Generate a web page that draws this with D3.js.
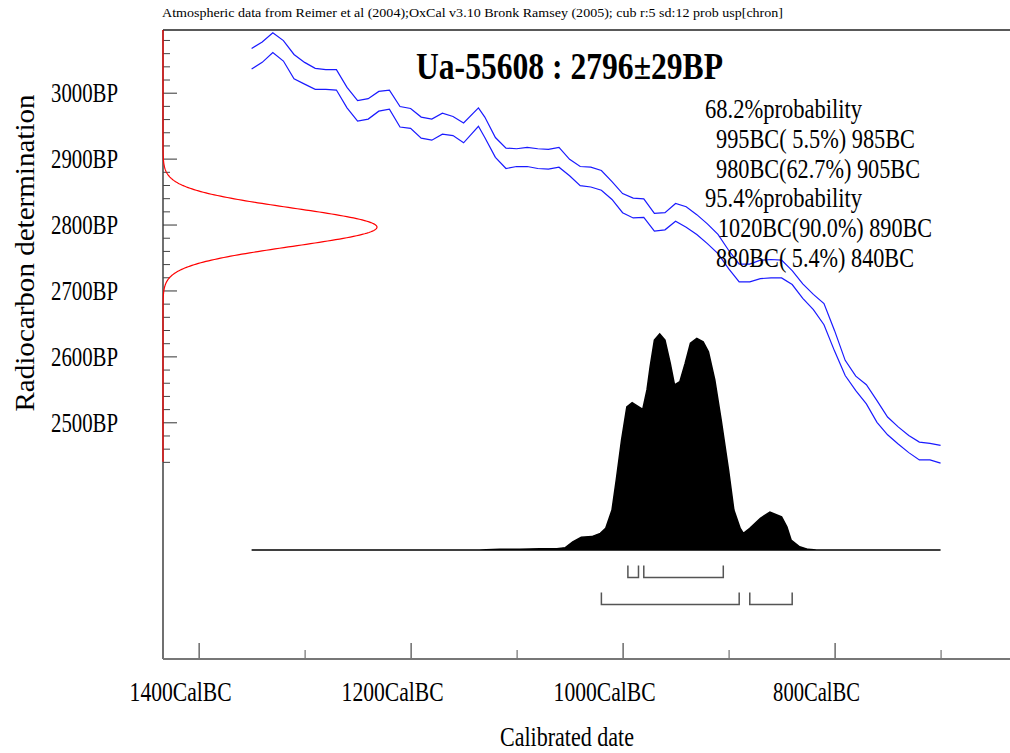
<!DOCTYPE html>
<html>
<head>
    <title>Ua-55608 calibration</title>
</head>
<style>
body { margin: 0; background: #fff; }
text { font-family: "Liberation Serif", "Times New Roman", serif; fill: #000; }
</style>
<body>
<script src="https://cdn.jsdelivr.net/npm/d3@7/dist/d3.min.js"></script>
<script>

// calibration curve, years BC and the two +-1 sigma envelope lines in BP
var curveYears = [1350, 1340, 1330, 1320, 1310, 1300, 1290, 1280, 1270, 1260,
                  1250, 1240, 1230, 1220, 1210, 1200, 1190, 1180, 1170, 1160,
                  1150, 1136, 1130, 1120, 1110, 1100, 1090, 1080, 1070, 1060,
                  1050, 1040, 1030, 1020, 1010, 1000, 990, 980, 970, 960,
                  950, 940, 930, 920, 910, 900, 890, 880, 870, 860,
                  850, 840, 830, 820, 810, 800, 790, 780, 770, 760,
                  750, 740, 730, 720, 710, 700];
var curveUpper = [3067, 3077, 3091, 3079, 3058, 3046, 3037, 3035, 3035, 3008,
                  2988, 2991, 3002, 3004, 2979, 2976, 2963, 2960, 2969, 2964,
                  2954, 2977, 2963, 2932, 2916, 2915, 2917, 2915, 2914, 2917,
                  2899, 2888, 2887, 2882, 2865, 2847, 2840, 2839, 2817, 2818,
                  2832, 2827, 2815, 2801, 2785, 2761, 2740, 2740, 2746, 2747,
                  2746, 2730, 2710, 2694, 2680, 2639, 2594, 2570, 2557, 2533,
                  2508, 2493, 2480, 2470, 2468, 2465];
var curveLower = [3036, 3046, 3061, 3048, 3021, 3013, 3005, 3005, 3004, 2977,
                  2957, 2960, 2972, 2975, 2948, 2946, 2931, 2928, 2937, 2935,
                  2924, 2949, 2932, 2902, 2885, 2888, 2888, 2885, 2884, 2887,
                  2874, 2859, 2857, 2852, 2838, 2818, 2810, 2811, 2790, 2792,
                  2805, 2796, 2785, 2771, 2756, 2733, 2713, 2713, 2718, 2719,
                  2719, 2709, 2688, 2671, 2648, 2608, 2571, 2548, 2528, 2500,
                  2481, 2467, 2454, 2443, 2443, 2438];

// calibrated probability (relative)
var probYears = [1350, 1135, 1116, 1097, 1078, 1062, 1054, 1047, 1039, 1029, 1021,
                 1016, 1010, 1006, 1001, 996, 991, 981, 977, 974, 970,
                 965, 960, 955, 951, 946, 941, 936, 930, 924, 919,
                 913, 907, 900, 895, 889, 886, 880, 870, 861, 850,
                 845, 841, 833, 825, 817, 700];
var probValues = [0, 0, 0.003, 0.003, 0.006, 0.006, 0.011, 0.038, 0.059, 0.062, 0.077,
                  0.100, 0.185, 0.324, 0.509, 0.663, 0.682, 0.651, 0.741, 0.849, 0.972,
                  1.0, 0.972, 0.864, 0.764, 0.779, 0.864, 0.957, 0.980, 0.964, 0.918,
                  0.787, 0.602, 0.370, 0.185, 0.100, 0.077, 0.100, 0.147, 0.175, 0.154,
                  0.108, 0.046, 0.015, 0.003, 0, 0];

// measurement
var sampleName = "Ua-55608";
var measuredBP = 2796;
var measuredErr = 29;

var range68 = [[995, 985], [980, 905]];
var range95 = [[1020, 890], [880, 840]];
var probLines = ["68.2%probability", "995BC( 5.5%) 985BC", "980BC(62.7%) 905BC",
                 "95.4%probability", "1020BC(90.0%) 890BC", "880BC( 5.4%) 840BC"];

var xTicksMajor = [1400, 1200, 1000, 800];
var xTicksMinor = [1300, 1100, 900, 700];
var yTickLabels = [3000, 2900, 2800, 2700, 2600, 2500];

var w = 1010;
var h = 753;

var svg = d3.select("body").append("svg")
            .attr("width", w)
            .attr("height", h);

// year BC decreases to the right
var xScale = d3.scaleLinear()
               .domain([1433.6, 634.5])
               .range([163, 1010]);
var yScale = d3.scaleLinear()
               .domain([2500, 3000])
               .range([422.3, 92.7]);
var pScale = d3.scaleLinear()
               .domain([0, 1])
               .range([550, 334]);
var gScale = d3.scaleLinear()
               .domain([0, 1])
               .range([163, 377]);

// header
svg.append("text")
    .attr("x", 162)
    .attr("y", 17)
    .attr("font-size", "13px")
    .attr("textLength", 621)
    .attr("lengthAdjust", "spacingAndGlyphs")
    .text("Atmospheric data from Reimer et al (2004);OxCal v3.10 Bronk Ramsey (2005); cub r:5 sd:12 prob usp[chron]");

// frame: top line and left axis
svg.append("line")
    .attr("x1", 163).attr("x2", w)
    .attr("y1", 30).attr("y2", 30)
    .attr("stroke", "#222").attr("stroke-width", 1.5);

svg.append("line")
    .attr("x1", 163).attr("x2", 163)
    .attr("y1", 30).attr("y2", 659)
    .attr("stroke", "#111").attr("stroke-width", 1.2);

// y ticks
var yMinor = d3.range(2440, 3081, 20).filter(function(d) { return d % 100 !== 0; });
svg.append("g")
    .attr("transform", "translate(163,0)")
    .call(d3.axisRight(yScale).tickValues(yMinor).tickSize(7).tickFormat(""))
    .call(function(g) { g.select(".domain").remove(); })
    .selectAll("line").attr("stroke", "#444");

svg.append("g")
    .attr("transform", "translate(163,0)")
    .call(d3.axisRight(yScale).tickValues(yTickLabels).tickSize(14).tickFormat(""))
    .call(function(g) { g.select(".domain").remove(); })
    .selectAll("line").attr("stroke", "#333");

svg.selectAll("text.ylab")
    .data(yTickLabels)
    .enter()
    .append("text")
    .attr("class", "ylab")
    .attr("x", 118)
    .attr("y", function(d) { return yScale(d) + 9.5; })
    .attr("text-anchor", "end")
    .attr("font-size", "28px")
    .attr("textLength", 67)
    .attr("lengthAdjust", "spacingAndGlyphs")
    .text(function(d) { return d + "BP"; });

svg.append("text")
    .attr("transform", "translate(34,253) rotate(-90)")
    .attr("text-anchor", "middle")
    .attr("font-size", "27px")
    .attr("textLength", 317)
    .attr("lengthAdjust", "spacingAndGlyphs")
    .text("Radiocarbon determination");

// x axis
svg.append("line")
    .attr("x1", 163).attr("x2", w)
    .attr("y1", 659).attr("y2", 659)
    .attr("stroke", "#777").attr("stroke-width", 2);

svg.append("g")
    .attr("transform", "translate(0,658)")
    .call(d3.axisTop(xScale).tickValues(xTicksMajor).tickSize(15).tickFormat(""))
    .call(function(g) { g.select(".domain").remove(); })
    .selectAll("line").attr("stroke", "#222");

svg.append("g")
    .attr("transform", "translate(0,658)")
    .call(d3.axisTop(xScale).tickValues(xTicksMinor).tickSize(8).tickFormat(""))
    .call(function(g) { g.select(".domain").remove(); })
    .selectAll("line").attr("stroke", "#555");

svg.selectAll("text.xlab")
    .data(xTicksMajor)
    .enter()
    .append("text")
    .attr("class", "xlab")
    .attr("x", function(d) { return xScale(d) - 18; })
    .attr("y", 701)
    .attr("text-anchor", "middle")
    .attr("font-size", "28px")
    .attr("textLength", function(d) { return d >= 1000 ? 102 : 87; })
    .attr("lengthAdjust", "spacingAndGlyphs")
    .text(function(d) { return d + "CalBC"; });

svg.append("text")
    .attr("x", 567)
    .attr("y", 746)
    .attr("text-anchor", "middle")
    .attr("font-size", "28px")
    .attr("textLength", 134)
    .attr("lengthAdjust", "spacingAndGlyphs")
    .text("Calibrated date");

// title
svg.append("text")
    .attr("x", 416)
    .attr("y", 79)
    .attr("font-size", "37px")
    .attr("font-weight", "bold")
    .attr("textLength", 307)
    .attr("lengthAdjust", "spacingAndGlyphs")
    .text(sampleName + " : " + measuredBP + "\u00b1" + measuredErr + "BP");

// calibration curve envelope
var envLine = d3.line()
    .x(function(d, i) { return xScale(curveYears[i]); })
    .y(function(d) { return yScale(d); });

svg.append("path")
    .datum(curveUpper)
    .attr("d", envLine)
    .attr("fill", "none")
    .attr("stroke", "#1a1aff")
    .attr("stroke-width", 1.2);

svg.append("path")
    .datum(curveLower)
    .attr("d", envLine)
    .attr("fill", "none")
    .attr("stroke", "#1a1aff")
    .attr("stroke-width", 1.2);

// measured date distribution along the y axis
var bpSteps = d3.range(2440, 3096, 1);
var gauss = d3.line()
    .x(function(d) {
        var z = (d - measuredBP) / measuredErr;
        return gScale(Math.exp(-0.5 * z * z));
    })
    .y(function(d) { return yScale(d); });

svg.append("path")
    .datum(bpSteps)
    .attr("d", gauss)
    .attr("fill", "none")
    .attr("stroke", "#ff0000")
    .attr("stroke-width", 1.2);

// calibrated distribution
var probArea = d3.area()
    .x(function(d, i) { return xScale(probYears[i]); })
    .y0(pScale(0))
    .y1(function(d) { return pScale(d); });

svg.append("path")
    .datum(probValues)
    .attr("d", probArea)
    .attr("fill", "#000")
    .attr("stroke", "#000")
    .attr("stroke-width", 1.5);

// range brackets
function bracket(d, yb) {
    var x1 = xScale(d[0]), x2 = xScale(d[1]);
    return "M" + x1 + "," + (yb - 12) + "V" + yb + "H" + x2 + "V" + (yb - 12);
}

svg.selectAll("path.r68")
    .data(range68)
    .enter()
    .append("path")
    .attr("class", "r68")
    .attr("d", function(d) { return bracket(d, 577.5); })
    .attr("fill", "none")
    .attr("stroke", "#555")
    .attr("stroke-width", 1.5);

svg.selectAll("path.r95")
    .data(range95)
    .enter()
    .append("path")
    .attr("class", "r95")
    .attr("d", function(d) { return bracket(d, 604.5); })
    .attr("fill", "none")
    .attr("stroke", "#555")
    .attr("stroke-width", 1.5);

// probability text
var probX = [705, 716, 716, 705, 718, 716];
var probW = [157, 199, 204, 157, 214, 198];
svg.selectAll("text.prob")
    .data(probLines)
    .enter()
    .append("text")
    .attr("class", "prob")
    .attr("x", function(d, i) { return probX[i]; })
    .attr("y", function(d, i) { return 118 + i * 29.8; })
    .attr("font-size", "28px")
    .attr("textLength", function(d, i) { return probW[i]; })
    .attr("lengthAdjust", "spacingAndGlyphs")
    .text(function(d) { return d; });

</script>
</body>
</html>
